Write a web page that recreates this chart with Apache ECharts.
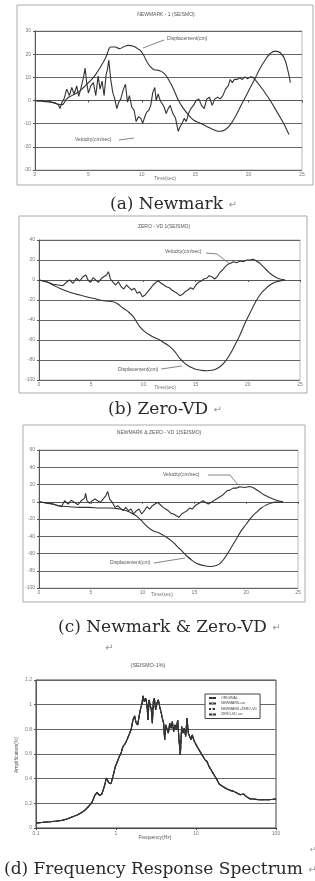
<!DOCTYPE html>
<html>
<head>
<meta charset="utf-8">
<script src="https://cdn.jsdelivr.net/npm/echarts@6/dist/echarts.min.js"></script>
<style>
html, body { margin: 0; padding: 0; background: #fff; }
#main { width: 315px; height: 881px; }
</style>
</head>
<body>
<div id="main"></div>
<script>
// (a) Newmark  [time(sec), value]
var aVelocity = [
  [0,0],[0.31,-0.3],[0.63,0.1],[0.94,-0.4],[1.25,-0.1],[1.56,-0.7],[1.88,-1.0],[2.19,-1.8],[2.34,-3.5],[2.5,-1.0],
  [2.72,0.7],[2.97,4.9],[3.22,2.1],[3.44,5.6],[3.66,2.8],[3.91,6.3],[4.09,1.8],[4.28,4.9],[4.53,9.8],[4.69,14.0],
  [4.84,7.7],[5.0,3.2],[5.22,6.3],[5.47,7.7],[5.69,2.1],[5.91,10.5],[6.09,4.9],[6.28,8.4],[6.47,2.1],[6.66,11.2],
  [6.78,13.3],[6.91,17.5],[7.09,9.1],[7.28,3.5],[7.47,0.7],[7.66,-3.5],[7.84,-0.7],[8.03,0.7],[8.28,4.9],[8.47,7.0],
  [8.66,-0.7],[8.84,2.1],[9.06,-2.8],[9.28,-4.2],[9.47,-9.1],[9.69,-7.0],[9.91,-7.7],[10.09,-9.8],[10.28,-7.0],[10.47,-4.9],
  [10.66,-4.2],[10.84,-2.1],[11.03,3.5],[11.22,5.6],[11.34,0],[11.53,2.8],[11.72,0],[11.91,-1.4],[12.09,-2.8],[12.28,-5.6],
  [12.47,-3.5],[12.66,-2.1],[12.91,-5.6],[13.16,-7.7],[13.41,-13.3],[13.59,-11.2],[13.78,-9.8],[13.97,-7.7],[14.16,-9.1],[14.38,-5.6],
  [14.59,-3.5],[14.84,-2.1],[15.09,0],[15.34,0.7],[15.59,-2.1],[15.84,-3.5],[16.09,0.7],[16.34,1.4],[16.59,-2.1],[16.84,0.7],
  [17.09,1.4],[17.34,0.7],[17.59,2.1],[17.84,4.9],[18.09,6.3],[18.28,9.1],[18.47,7.7],[18.66,9.1],[18.91,9.1],[19.16,9.8],
  [19.41,9.1],[19.66,10.2],[19.91,9.4],[20.16,10.2],[20.41,10.0],[20.59,9.1],[20.84,7.7],[21.41,4.2],[22.03,0],[22.66,-4.9],
  [23.28,-9.8],[23.78,-14.7]
];
var aDisplacement = [
  [0,0],[0.78,-0.4],[1.41,-0.7],[2.03,-1.4],[2.5,-1.8],[2.97,0.7],[3.44,2.1],[3.91,3.2],[4.38,4.9],[4.84,7.0],
  [5.31,9.1],[5.78,11.9],[6.25,15.4],[6.66,18.9],[6.88,21.7],[7.09,23.1],[7.5,23.1],[7.91,22.4],[8.28,23.1],[8.75,23.8],
  [9.22,23.4],[9.59,22.4],[9.84,21.7],[10.16,19.6],[10.47,16.8],[10.78,14.7],[11.16,13.3],[11.56,13.0],[12.03,11.9],[12.5,9.1],
  [12.97,4.9],[13.44,0],[13.91,-3.5],[14.38,-6.3],[14.84,-8.4],[15.47,-9.8],[16.09,-11.2],[16.72,-12.6],[17.34,-13.3],[17.81,-12.6],
  [18.28,-10.5],[18.75,-7.0],[19.22,-2.8],[19.69,1.4],[20.16,5.6],[20.63,9.8],[21.09,14.0],[21.56,17.5],[22.03,20.3],[22.5,21.3],
  [22.97,20.6],[23.34,18.2],[23.66,13.3],[23.91,7.7]
];

// (b) Zero-VD
var bVelocity = [
  [0,0],[0.38,-1],[0.86,-2.3],[1.34,-4.3],[1.82,-5],[2.3,-5.7],[2.62,-2.3],[2.94,0],[3.26,-3.3],[3.58,1.7],
  [3.9,-1],[4.22,3.3],[4.48,5],[4.7,0],[4.92,-2.3],[5.18,2.3],[5.43,0],[5.69,-2.3],[5.98,1.7],[6.2,3.3],
  [6.46,5],[6.65,8.3],[6.84,1],[7.1,-2.3],[7.35,-5],[7.61,-1.7],[7.86,-6.7],[8.12,-9],[8.38,-5],[8.63,-7.7],
  [8.89,-10],[9.14,-8.3],[9.4,-13.3],[9.65,-11.7],[9.91,-16.7],[10.17,-15],[10.42,-11.7],[10.68,-8.3],[10.93,-5],[11.19,-2.3],
  [11.45,-1],[11.7,-3.3],[11.96,-5],[12.21,-6.7],[12.47,-7.7],[12.72,-10],[12.98,-11.7],[13.24,-13.3],[13.49,-15.7],[13.75,-14.3],
  [14.0,-11.7],[14.26,-10],[14.51,-7.7],[14.77,-9.3],[15.03,-5],[15.28,-2.3],[15.54,-1],[15.79,1],[16.05,1.7],[16.3,4.3],
  [16.56,3.3],[16.82,1],[17.07,3.3],[17.33,7.7],[17.58,10],[17.84,13.3],[18.09,15.7],[18.35,16.7],[18.61,18.3],[18.93,17.3],
  [19.25,19],[19.57,18.3],[19.88,20],[20.2,20],[20.52,20.7],[20.84,19],[21.16,16.7],[21.48,13.3],[21.8,10],[22.12,6.7],
  [22.44,4.3],[22.76,2.3],[23.08,1],[23.56,0]
];
var bDisplacement = [
  [0,0],[0.7,-1.7],[1.34,-5],[1.98,-8.3],[2.62,-11],[3.26,-13.3],[3.9,-15],[4.54,-16.7],[5.18,-18.3],[5.82,-20],
  [6.46,-21],[7.1,-21.7],[7.58,-24.3],[8.06,-28.3],[8.54,-31.7],[9.02,-36.7],[9.34,-41.7],[9.65,-46.7],[10.13,-51.7],[10.61,-55],
  [11.09,-57.7],[11.57,-60],[12.05,-63.3],[12.53,-66.7],[13.01,-71.7],[13.49,-78.3],[13.97,-83.3],[14.45,-86.7],[14.93,-89],[15.41,-90],
  [16.05,-90.7],[16.69,-90],[17.33,-86.7],[17.81,-81.7],[18.29,-74.3],[18.77,-65],[19.25,-55],[19.73,-43.3],[20.2,-33.3],[20.68,-23.3],
  [21.16,-15],[21.64,-9.3],[22.12,-5],[22.6,-2.3],[23.08,-1],[23.56,0]
];

// (c) Newmark & Zero-VD
var cVelocity = [
  [0,0],[0.39,-0.8],[0.87,-1.9],[1.35,-2.7],[1.83,-4.6],[2.16,-5.8],[2.48,1.2],[2.8,-2.7],[3.12,1.9],[3.44,-0.8],
  [3.76,-3.5],[4.09,1.2],[4.41,4.2],[4.5,9.6],[4.63,1.2],[4.89,-1.9],[5.15,1.2],[5.41,3.1],[5.66,1.2],[5.92,-0.8],
  [6.18,3.1],[6.44,6.9],[6.63,11.9],[6.82,3.1],[7.08,-0.8],[7.34,-6.5],[7.59,-4.6],[7.85,-7.3],[8.11,-10.4],[8.37,-6.5],
  [8.62,-10.4],[8.88,-8.5],[9.14,-14.2],[9.4,-10.4],[9.65,-8.5],[9.91,-14.2],[10.17,-10.4],[10.42,-5.8],[10.68,-8.5],[10.94,-4.6],
  [11.2,-2.7],[11.45,-0.8],[11.71,-3.5],[11.97,-6.5],[12.23,-8.5],[12.48,-10.4],[12.74,-13.5],[13.0,-14.2],[13.26,-16.2],[13.51,-18.1],
  [13.77,-14.2],[14.03,-12.3],[14.29,-10.4],[14.54,-7.3],[14.8,-8.5],[15.06,-4.6],[15.32,-2.7],[15.57,-0.8],[15.83,1.2],[16.09,-0.8],
  [16.34,-2.7],[16.6,-0.8],[16.86,1.2],[17.12,3.1],[17.37,5],[17.63,6.9],[17.89,9.6],[18.15,12.7],[18.4,13.5],[18.73,15.8],
  [19.05,15.8],[19.37,17.3],[19.85,16.5],[20.33,17.7],[20.66,16.5],[21.14,12.7],[21.62,8.8],[22.1,5.8],[22.59,3.1],[23.07,1.2],
  [23.55,0]
];
var cDisplacement = [
  [0,0],[1.03,-1.9],[1.99,-4.6],[2.96,-5.8],[3.93,-6.5],[4.89,-6.5],[5.86,-7.3],[6.82,-7.3],[7.79,-8.5],[8.43,-10.4],
  [9.07,-14.2],[9.56,-18.1],[10.04,-23.8],[10.52,-29.6],[11.0,-33.5],[11.65,-36.5],[12.29,-41.2],[12.77,-45],[13.26,-50.8],[13.74,-56.5],
  [14.22,-62.3],[14.7,-67.3],[15.19,-71.2],[15.83,-73.8],[16.47,-75],[17.12,-73.8],[17.6,-70],[18.08,-62.3],[18.57,-52.7],[19.05,-43.1],
  [19.53,-33.5],[20.01,-25.8],[20.5,-18.1],[20.98,-12.3],[21.46,-7.3],[21.94,-3.8],[22.43,-1.5],[22.91,-0.4],[23.55,0]
];

// (d) frequency response spectrum  [frequency(Hz), amplification]
var spectrum = [
  [0.101,0.040],[0.125,0.046],[0.151,0.051],[0.183,0.057],[0.211,0.062],[0.244,0.073],[0.282,0.089],[0.326,0.105],[0.376,0.127],[0.414,0.148],
  [0.455,0.175],[0.501,0.208],[0.541,0.262],[0.579,0.289],[0.625,0.262],[0.668,0.278],[0.715,0.337],[0.757,0.405],[0.809,0.369],[0.866,0.359],
  [0.917,0.418],[0.982,0.499],[1.029,0.531],[1.101,0.58],[1.155,0.607],[1.223,0.661],[1.296,0.682],[1.372,0.715],[1.454,0.755],[1.54,0.796],
  [1.631,0.876],[1.712,0.909],[1.778,0.855],[1.866,0.836],[1.94,0.903],[2.015,0.957],[2.113,1.011],[2.175,1.071],[2.26,1.025],[2.35,1.052],
  [2.44,0.998],[2.512,0.876],[2.586,1.038],[2.686,1.052],[2.765,0.957],[2.846,0.85],[2.93,1.025],[3.014,1.052],[3.13,0.957],[3.25,1.011],
  [3.38,1.038],[3.515,0.984],[3.65,0.944],[3.79,0.89],[3.94,0.85],[4.06,0.715],[4.18,0.836],[4.34,0.823],[4.51,0.769],[4.69,0.85],
  [4.87,0.809],[5.06,0.863],[5.26,0.782],[5.46,0.836],[5.68,0.796],[5.9,0.876],[6.13,0.715],[6.37,0.593],[6.62,0.823],[6.88,0.769],
  [7.15,0.809],[7.43,0.742],[7.72,0.89],[8.02,0.769],[8.34,0.782],[8.66,0.715],[9.0,0.755],[9.35,0.715],[9.81,0.688],[10.29,0.661],
  [10.9,0.634],[11.55,0.607],[12.23,0.593],[12.96,0.553],[13.73,0.539],[14.54,0.499],[15.4,0.472],[16.31,0.445],[17.28,0.418],[18.3,0.391],
  [19.39,0.359],[20.94,0.342],[22.6,0.329],[24.4,0.316],[26.86,0.305],[29.6,0.297],[32.5,0.283],[35.8,0.27],[39.4,0.275],[43.4,0.251],
  [47.8,0.235],[52.6,0.235],[60.7,0.229],[70.1,0.229],[81.0,0.229],[100,0.235]
];
var spectrumNames = ['ORIGINAL', 'NEWMARK-cor', 'NEWMARK+ZERO-VD', 'ZERO-VD cor'];

// y ranges [min, max, interval]
var aRange = [-30, 30, 10];
var bRange = [-100, 40, 20];
var cRange = [-100, 60, 20];
var dRange = [0, 1.2, 0.2];
var timeRange = [0, 25, 5];

var tiny = '5px "Liberation Sans", Arial, sans-serif';
var capFont = '17px "DejaVu Serif", serif';

function timeAxis(grid) {
  return {
    type: 'value', gridIndex: grid,
    min: timeRange[0], max: timeRange[1], interval: timeRange[2],
    axisLine: { onZero: true, lineStyle: { color: '#555', width: 1 } },
    axisTick: { length: 2, lineStyle: { color: '#555' } },
    axisLabel: { fontSize: 5, color: '#777', margin: 2 },
    splitLine: { show: false }
  };
}
function valueAxis(grid, r) {
  return {
    type: 'value', gridIndex: grid, min: r[0], max: r[1], interval: r[2],
    axisLine: { show: true, onZero: false, lineStyle: { color: '#555', width: 1 } },
    axisTick: { show: true, length: 2, lineStyle: { color: '#555' } },
    axisLabel: { fontSize: 5, color: '#777', margin: 4 },
    splitLine: { lineStyle: { color: '#666', width: 1 } }
  };
}
function line(name, grid, data, smooth, type) {
  return {
    name: name, type: 'line', xAxisIndex: grid, yAxisIndex: grid, data: data,
    symbol: 'none', smooth: smooth, silent: true,
    lineStyle: { color: '#333', width: 1.1, type: type || 'solid' }
  };
}
function txt(x, y, s, font, fill, align) {
  return { type: 'text', x: x, y: y, silent: true,
    style: { text: s, font: font, fill: fill, textAlign: align || 'left', textVerticalAlign: 'middle' } };
}
function caption(x, y, s) {
  return { type: 'text', x: x, y: y, silent: true,
    style: { text: s + ' {r|↵}', font: capFont, fill: '#2a2a2a', textAlign: 'left', textVerticalAlign: 'middle',
      rich: { r: { font: '10px "DejaVu Sans", sans-serif', fill: '#999' } } } };
}
function leader(pts) {
  return { type: 'polyline', silent: true, shape: { points: pts }, style: { stroke: '#666', lineWidth: 0.8, fill: null } };
}
function frame(x, y, w, h) {
  return { type: 'rect', silent: true, z: -1, shape: { x: x, y: y, width: w, height: h },
    style: { stroke: '#aaa', lineWidth: 1, fill: null } };
}

var chart = echarts.init(document.getElementById('main'));
chart.setOption({
  animation: false,
  backgroundColor: '#fff',
  grid: [
    { left: 35, top: 31, width: 267, height: 139, show: true, borderColor: '#bbb' },
    { left: 39, top: 240, width: 261, height: 140, show: true, borderColor: '#bbb' },
    { left: 39, top: 450, width: 259, height: 138, show: true, borderColor: '#bbb' },
    { left: 36, top: 680, width: 240, height: 148, show: true, borderColor: '#444', borderWidth: 1 }
  ],
  xAxis: [
    timeAxis(0), timeAxis(1), timeAxis(2),
    {
      type: 'log', gridIndex: 3, min: 0.1, max: 100, logBase: 10,
      axisLine: { onZero: false, lineStyle: { color: '#444' } },
      axisTick: { length: 2, lineStyle: { color: '#444' } },
      axisLabel: { fontSize: 5, color: '#777', margin: 3 },
      splitLine: { show: false }, minorTick: { show: false }
    }
  ],
  yAxis: [
    valueAxis(0, aRange), valueAxis(1, bRange), valueAxis(2, cRange), valueAxis(3, dRange)
  ],
  legend: {
    data: spectrumNames, orient: 'vertical', left: 205, top: 694,
    itemWidth: 7, itemHeight: 2, itemGap: 1.5, padding: [2, 3],
    borderColor: '#444', borderWidth: 1, backgroundColor: '#fff',
    textStyle: { fontSize: 3.5, color: '#444' }
  },
  series: [
    line('Velocity(cm/sec)', 0, aVelocity, false),
    line('Displacement(cm)', 0, aDisplacement, true),
    line('Velocity(cm/sec)', 1, bVelocity, false),
    line('Displacement(cm)', 1, bDisplacement, true),
    line('Velocity(cm/sec)', 2, cVelocity, false),
    line('Displacement(cm)', 2, cDisplacement, true),
    line(spectrumNames[0], 3, spectrum, false),
    line(spectrumNames[1], 3, spectrum, false, 'dashed'),
    line(spectrumNames[2], 3, spectrum, false, 'dotted'),
    line(spectrumNames[3], 3, spectrum, false)
  ],
  graphic: [
    frame(17, 5, 296, 180),
    frame(19, 216, 288, 177),
    frame(23, 425, 282, 177),

    txt(166, 15, 'NEWMARK - 1 (SEISMO)', tiny, '#555', 'center'),
    txt(164, 227, 'ZERO - VD 1(SEISMO)', tiny, '#555', 'center'),
    txt(159, 433, 'NEWMARK & ZERO - VD 1(SEISMO)', tiny, '#555', 'center'),
    txt(148, 665, '(SEISMO-1%)', '5.5px "Liberation Sans", sans-serif', '#555', 'center'),

    txt(167, 39, 'Displacement(cm)', tiny, '#555'),
    leader([[143, 48], [164, 40]]),
    txt(75, 140, 'Velocity(cm/sec)', tiny, '#555'),
    leader([[119, 140], [134, 138]]),
    txt(165, 252, 'Velocity(cm/sec)', tiny, '#555'),
    leader([[206, 253], [217, 254], [230, 264]]),
    txt(118, 370, 'Displacement(cm)', tiny, '#555'),
    leader([[161, 369], [182, 366]]),
    txt(163, 475, 'Velocity(cm/sec)', tiny, '#555'),
    leader([[208, 475], [230, 475], [238, 485]]),
    txt(110, 563, 'Displacement(cm)', tiny, '#555'),
    leader([[154, 563], [185, 558]]),

    txt(165, 179, 'Time(sec)', tiny, '#777', 'center'),
    txt(165, 388, 'Time(sec)', tiny, '#777', 'center'),
    txt(162, 595, 'Time(sec)', tiny, '#777', 'center'),
    txt(155, 838, 'Frequency(Hz)', tiny, '#555', 'center'),
    { type: 'text', x: 17, y: 755, rotation: Math.PI / 2, silent: true,
      style: { text: 'Amplification(%)', font: tiny, fill: '#555', textAlign: 'center', textVerticalAlign: 'middle' } },

    caption(110, 205, '(a) Newmark'),
    caption(108, 410, '(b) Zero-VD'),
    caption(58, 628, '(c) Newmark & Zero-VD'),
    txt(105, 648, '↵', '10px "DejaVu Sans", sans-serif', '#999'),
    txt(310, 850, '↵', '8px "DejaVu Sans", sans-serif', '#999'),
    caption(4, 870, '(d) Frequency Response Spectrum')
  ]
});
</script>
</body>
</html>
